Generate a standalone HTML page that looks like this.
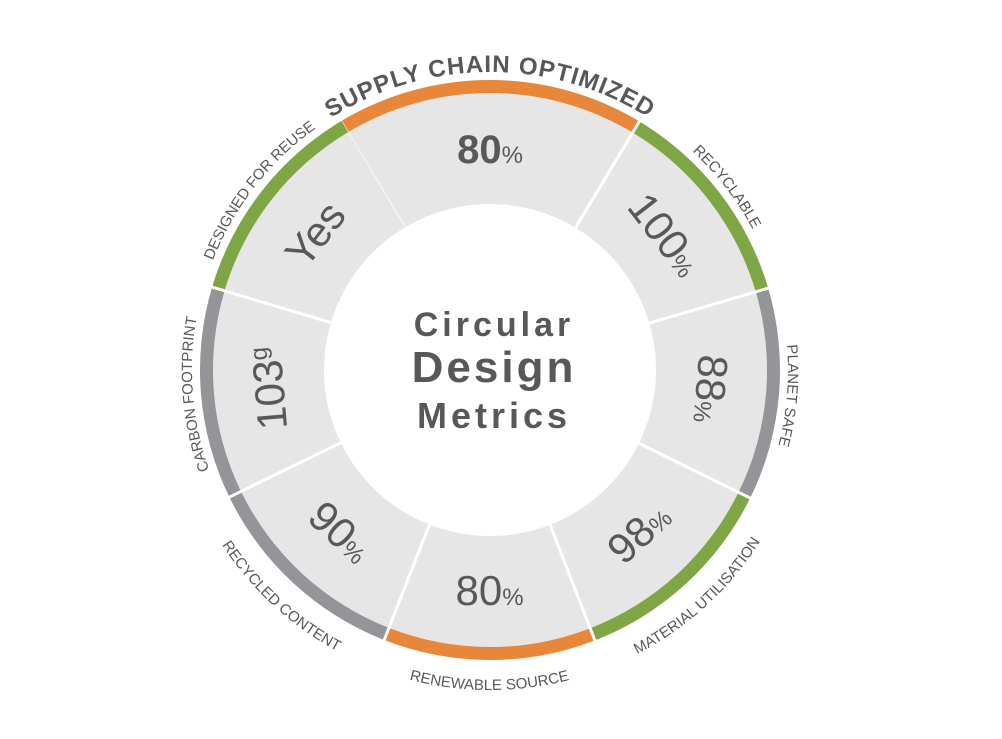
<!DOCTYPE html>
<html><head><meta charset="utf-8">
<style>
html,body{margin:0;padding:0;background:#fff;}
svg{display:block;font-family:"Liberation Sans","DejaVu Sans",sans-serif;}
</style></head>
<body>
<svg id="chart" width="1002" height="739" viewBox="0 0 1002 739" xmlns="http://www.w3.org/2000/svg">
<defs id="defs"></defs>
<g id="segments"></g>
<g id="values"></g>
<g id="labels"></g>
<circle cx="490" cy="370" r="166" fill="#fff"/>
<g fill="#58585a" font-weight="bold" text-anchor="middle">
<text x="494" y="336" font-size="34" letter-spacing="4">Circular</text>
<text x="494" y="382" font-size="44" letter-spacing="3">Design</text>
<text x="494" y="428" font-size="36" letter-spacing="4">Metrics</text>
</g>
</svg>
<script>
const labels = ["SUPPLY CHAIN OPTIMIZED","RECYCLABLE","PLANET SAFE","MATERIAL UTILISATION","RENEWABLE SOURCE","RECYCLED CONTENT","CARBON FOOTPRINT","DESIGNED FOR REUSE"];
const values = ["80","100","88","98","80","90","103","Yes"];
const units = ["%","%","%","%","%","%","g",""];
const spans = [62,42.6,42.6,42.6,42.6,42.6,42.6,42.6];
const arcColors = ["#e8863a","#7ea644","#939598","#7ea644","#e8863a","#939598","#939598","#7ea644"];
const valueRot = [0,0,0,-180,-180,-180,-360,-360];
const bottomLabel = [false,false,false,true,true,true,false,false];

const NS="http://www.w3.org/2000/svg";
const cx=490, cy=370, rIn=166, rFill=277, rOut=290;
function pt(r,a){const t=a*Math.PI/180;return [cx+r*Math.sin(t), cy-r*Math.cos(t)];}
function sector(r1,r2,a1,a2){
  const [x1,y1]=pt(r2,a1),[x2,y2]=pt(r2,a2),[x3,y3]=pt(r1,a2),[x4,y4]=pt(r1,a1);
  const lg=(a2-a1)>180?1:0;
  return `M${x1},${y1}A${r2},${r2} 0 ${lg} 1 ${x2},${y2}L${x3},${y3}A${r1},${r1} 0 ${lg} 0 ${x4},${y4}Z`;
}
const segG=document.getElementById('segments'), valG=document.getElementById('values'), labG=document.getElementById('labels'), defs=document.getElementById('defs');
let start=-spans[0]/2;
labels.forEach((lab,i)=>{
  const a1=start, a2=start+spans[i], c=(a1+a2)/2; start=a2;
  const f=document.createElementNS(NS,'path');
  f.setAttribute('d',sector(rIn-5,rFill,a1,a2));
  f.setAttribute('fill','#e6e6e6');
  
  
  segG.appendChild(f);
  const ar=document.createElementNS(NS,'path');
  ar.setAttribute('d',sector(rFill,rOut,a1,a2));
  ar.setAttribute('fill',arcColors[i]);
  
  
  segG.appendChild(ar);
  const [sx1,sy1]=pt(rIn-5,a1),[sx2,sy2]=pt(rOut+1,a1);
  const ln=document.createElementNS(NS,'line');
  ln.setAttribute('x1',sx1);ln.setAttribute('y1',sy1);ln.setAttribute('x2',sx2);ln.setAttribute('y2',sy2);
  ln.setAttribute('stroke','#fff');ln.setAttribute('stroke-width','3');
  
  
  segG.appendChild(ln);
  // value
  const rot=c+valueRot[i];
  const [vx,vy]=pt(221,c);
  const t=document.createElementNS(NS,'text');
  t.setAttribute('transform',`translate(${vx},${vy}) rotate(${rot})`);
  t.setAttribute('text-anchor','middle');t.setAttribute('dy','14');
  t.setAttribute('fill','#58585a');
  t.setAttribute('font-size','42');
  if(i===0){t.setAttribute('font-weight','bold');t.setAttribute('font-size','40');}
  
  
  t.textContent=values[i];
  if(units[i]){const u=document.createElementNS(NS,'tspan');u.setAttribute('font-size','24');u.setAttribute('font-weight','normal');
    if(units[i]==='g'){u.setAttribute('dy','-14');}
    u.textContent=units[i];t.appendChild(u);}
  valG.appendChild(t);
  // label path
  const p=document.createElementNS(NS,'path');
  let d;
  if(bottomLabel[i]){const r=320;const [px1,py1]=pt(r,c+70),[px2,py2]=pt(r,c-70);d=`M${px1},${py1}A${r},${r} 0 0 0 ${px2},${py2}`;}
  else{const r=i===0?298:298;const [px1,py1]=pt(r,c-70),[px2,py2]=pt(r,c+70);d=`M${px1},${py1}A${r},${r} 0 0 1 ${px2},${py2}`;}
  p.setAttribute('id','lp'+i);p.setAttribute('d',d);defs.appendChild(p);
  const lt=document.createElementNS(NS,'text');
  lt.setAttribute('fill','#58585a');
  lt.setAttribute('font-size',i===0?'24':'15');
  if(i===0){lt.setAttribute('font-weight','bold');lt.setAttribute('letter-spacing','1');}
  
  
  const tp=document.createElementNS(NS,'textPath');
  tp.setAttribute('href','#lp'+i);tp.setAttribute('startOffset','50%');tp.setAttribute('text-anchor','middle');
  tp.textContent=lab;lt.appendChild(tp);labG.appendChild(lt);
});
</script>
</body></html>
